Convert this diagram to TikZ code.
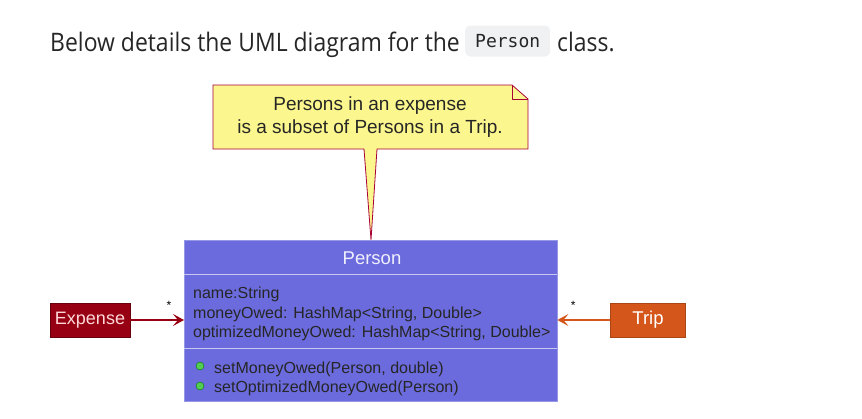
\documentclass[tikz,border=0pt]{standalone}
\usepackage{fontspec}
\setmainfont{Open Sans}
\newfontfamily\headfont[FakeStretch=0.9]{Open Sans}
\newfontfamily\umlfont{Liberation Sans}
\newfontfamily\codefont{DejaVu Sans Mono}
\usetikzlibrary{arrows.meta}
\definecolor{notefill}{HTML}{FBF68D}
\definecolor{noteline}{HTML}{A80036}
\definecolor{classfill}{HTML}{6B6BDD}
\definecolor{classline}{HTML}{C8C8F0}
\definecolor{expfill}{HTML}{960012}
\definecolor{tripfill}{HTML}{D4561A}
\definecolor{codebg}{HTML}{F0F1F3}
\begin{document}
\begin{tikzpicture}[x=1pt,y=-1pt]

\tikzset{member/.style = {anchor=base west, inner sep=0pt, font=\umlfont\fontsize{16}{16}\selectfont, text=black!85}}
\tikzset{assoc/.style = {-{Stealth[length=11pt,width=12pt,inset=5pt]}, line width=1.2pt}}
\tikzset{method/.style = {circle, draw=green!45!black, fill=green!60!white!80!black, inner sep=0pt, minimum size=8pt}}
\useasboundingbox (0,0) rectangle (862,418);
%heading
\node[anchor=base west, inner sep=0pt, font=\headfont\fontsize{25.5}{25.5}\selectfont, text=black!85] (intro) at (50,51) {Below details the UML diagram for the};
\node[fill=codebg, rounded corners=5pt, anchor=west, minimum height=31pt, minimum width=85pt, inner sep=0pt, font=\codefont\fontsize{18}{18}\selectfont, text=black!85] (code) at (465,41) {Person};
\node[anchor=base west, inner sep=0pt, font=\headfont\fontsize{25.5}{25.5}\selectfont, text=black!85] (rest) at (557,51) {class.};
%note
\draw[noteline, fill=notefill, line width=0.8pt] (213,85) -- (512,85) -- (528,99) -- (528,149) -- (377,149) -- (371,240) -- (364,149) -- (213,149) -- cycle;
\draw[noteline, line width=0.8pt] (512,85) -- (512,99) -- (528,99);
\node[align=center, font=\umlfont\fontsize{19}{23}\selectfont, text=black!85] (note) at (370,117) {Persons in an expense\\is a subset of Persons in a Trip.};
%class
\node[draw=classfill!70!white, fill=classfill, minimum width=373pt, minimum height=161pt, anchor=north west, inner sep=0pt] (person) at (184,240) {};
\node[anchor=base, inner sep=0pt, text=white!90!classfill, font=\umlfont\fontsize{18.5}{18.5}\selectfont] (title) at (372,264) {Person};
\draw[classline, line width=1pt] (person.west |- 0,274) -- (person.east |- 0,274);
\draw[classline, line width=1pt] (person.west |- 0,348) -- (person.east |- 0,348);
\node[member] (a1) at (193,298) {name:String};
\node[member] (a2) at (193,318) {moneyOwed: HashMap<String, Double>};
\node[member] (a3) at (193,337) {optimizedMoneyOwed: HashMap<String, Double>};
\node[method] (c1) at (200,366) {};
\node[method] (c2) at (200,386) {};
\node[member] (m1) at (214,373) {setMoneyOwed(Person, double)};
\node[member] (m2) at (214,392) {setOptimizedMoneyOwed(Person)};
%ends
\node[fill=expfill, draw=expfill!70!black, minimum width=80pt, minimum height=34pt, inner sep=0pt, text=red!15!white, font=\umlfont\fontsize{18}{18}\selectfont] (expense) at (90,320) {Expense};
\node[fill=tripfill, draw=tripfill!80!black, minimum width=75pt, minimum height=34pt, inner sep=0pt, text=white, font=\umlfont\fontsize{18.5}{18.5}\selectfont] (trip) at (648,320) {Trip};
%edges
\draw[assoc, expfill] (expense) -- (person.west |- expense) node[pos=0.72, above=7pt, text=black, font=\umlfont\fontsize{12}{12}\selectfont] {*};
\draw[assoc, tripfill] (trip) -- (person.east |- trip) node[pos=0.7, above=7pt, text=black, font=\umlfont\fontsize{12}{12}\selectfont] {*};

\end{tikzpicture}
\end{document}
